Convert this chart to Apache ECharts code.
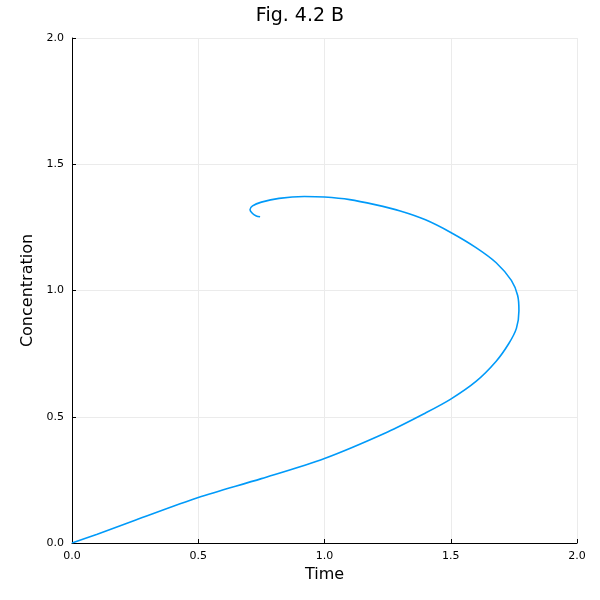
<!DOCTYPE html>
<html>
<head>
<meta charset="utf-8">
<script src="https://cdn.jsdelivr.net/npm/echarts@6/dist/echarts.min.js"></script>
<style>html,body{margin:0;padding:0;background:#fff}#c{width:600px;height:600px}</style>
</head>
<body>
<div id="c"></div>
<script>
// trajectory (x, y)
var xs = [0, 0.1, 0.25, 0.5, 0.75, 1.0, 1.25, 1.4, 1.5, 1.6, 1.68, 1.73, 1.76, 1.77, 1.765, 1.74, 1.68, 1.6, 1.5, 1.4, 1.3, 1.2, 1.1, 1.0, 0.92, 0.82, 0.75, 0.715, 0.705, 0.715, 0.73, 0.745];
var ys = [0, 0.035, 0.09, 0.18, 0.255, 0.335, 0.44, 0.515, 0.57, 0.64, 0.72, 0.79, 0.85, 0.92, 0.98, 1.04, 1.11, 1.17, 1.23, 1.28, 1.315, 1.34, 1.36, 1.37, 1.372, 1.365, 1.35, 1.335, 1.32, 1.305, 1.295, 1.292];
var ticks = ['0.0', '0.5', '1.0', '1.5', '2.0'];

var chart = echarts.init(document.getElementById('c'));
var pts = xs.map(function (x, i) { return [x, ys[i]]; });
function axis(name, gap) {
  return {
    type: 'value', min: 0, max: 2, interval: 0.5, name: name,
    nameLocation: 'middle', nameGap: gap,
    nameTextStyle: { fontSize: 16, color: '#000', fontFamily: 'DejaVu Sans' },
    axisLine: { show: true, lineStyle: { color: '#000' } },
    axisTick: { show: true, inside: true, length: 4, lineStyle: { color: '#000' } },
    axisLabel: { fontSize: 11, color: '#000', fontFamily: 'DejaVu Sans',
      formatter: function (v) { return ticks[Math.round(v / 0.5)]; } },
    splitLine: { show: true, lineStyle: { color: '#ebebeb' } }
  };
}
chart.setOption({
  animation: false,
  title: { text: 'Fig. 4.2 B', left: 'center', top: 2,
    textStyle: { fontSize: 19, fontWeight: 'normal', color: '#000', fontFamily: 'DejaVu Sans' } },
  grid: { left: 72, right: 23, top: 38, bottom: 57 },
  xAxis: axis('Time', 24),
  yAxis: axis('Concentration', 35),
  series: [{
    type: 'line', data: pts, smooth: 0.3, showSymbol: false,
    lineStyle: { color: '#009af9', width: 1.6 }
  }]
});
</script>
</body>
</html>
